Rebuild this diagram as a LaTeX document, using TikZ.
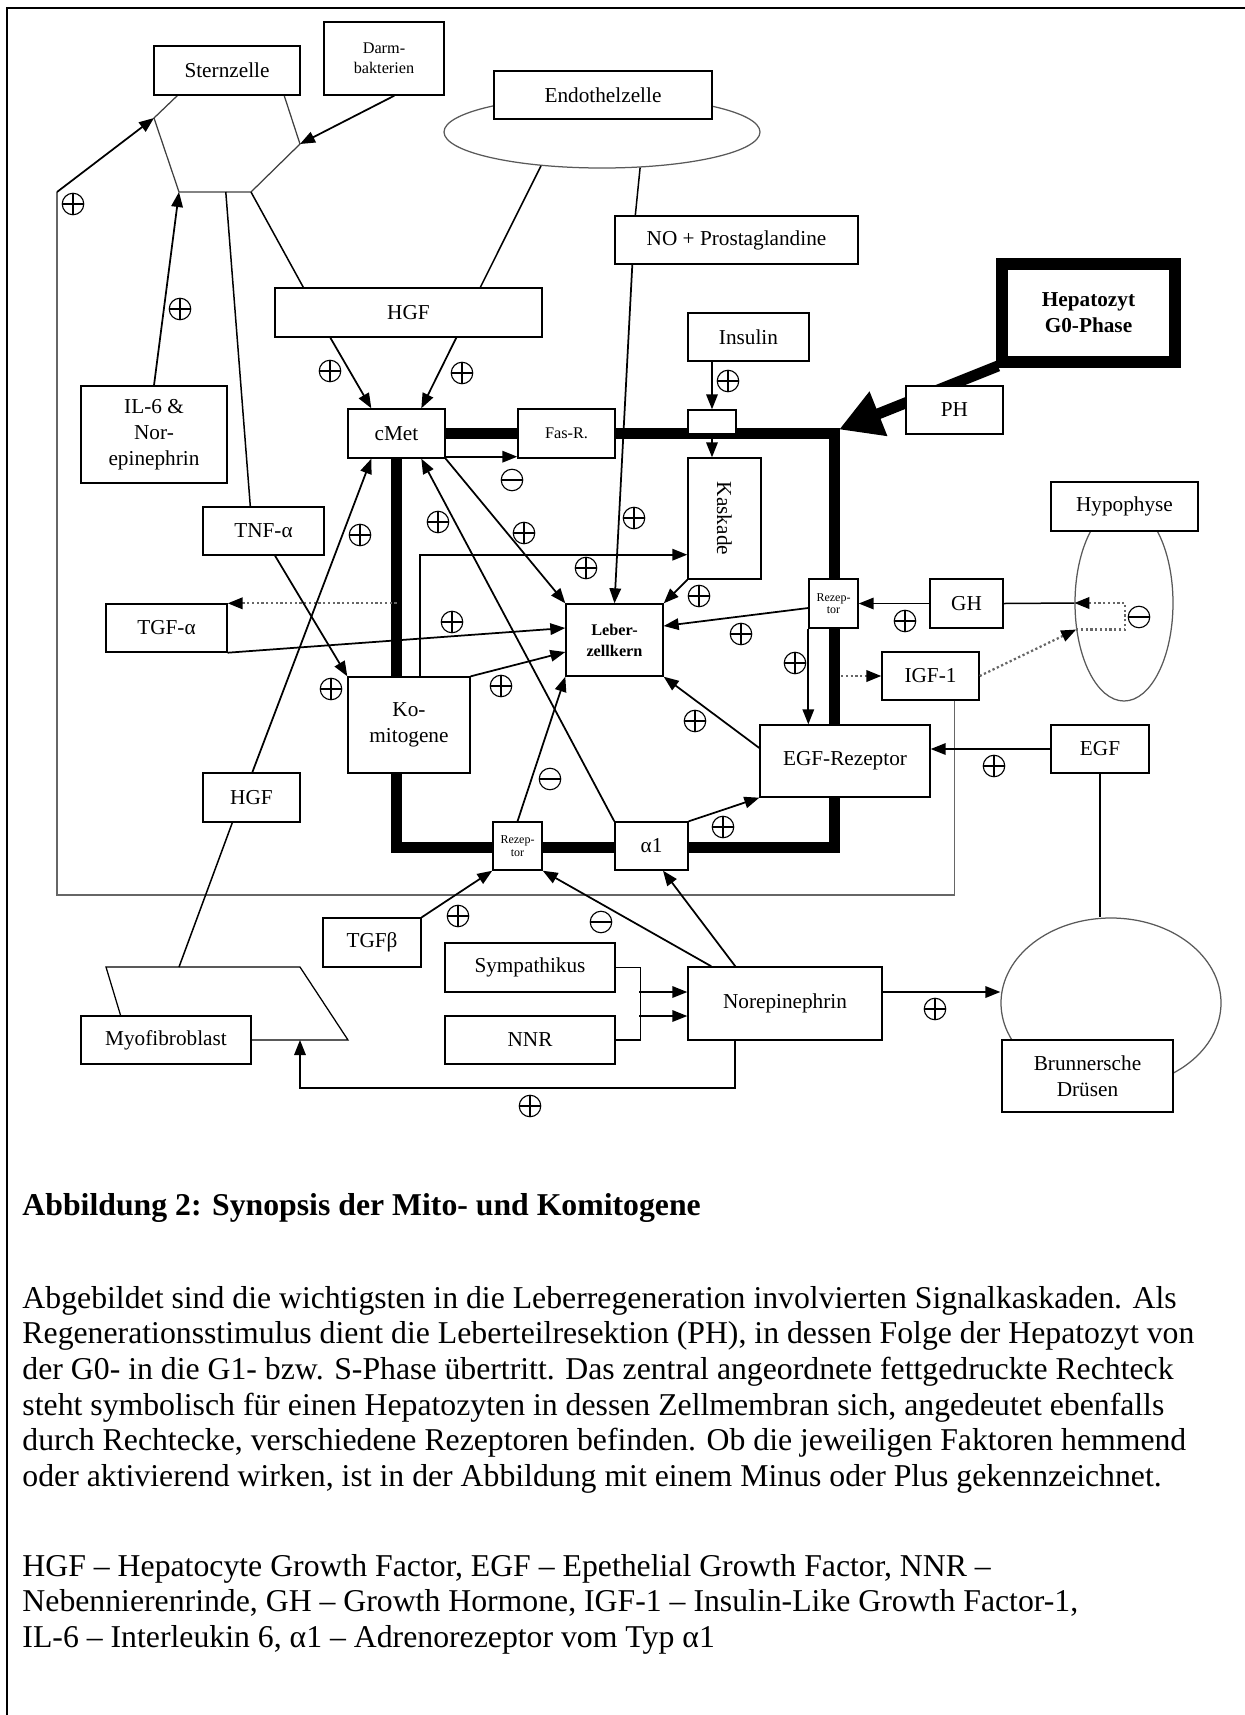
\documentclass[tikz,border=0pt]{standalone}
\usepackage{fontspec}
\setmainfont{Liberation Serif}
\usetikzlibrary{arrows.meta, shapes.geometric, calc}
\pgfdeclarelayer{bg}
\pgfsetlayers{bg,main}
\tikzset{
	box/.style 2 args={draw, fill=white, line width=0.55pt, minimum width=#1*0.4pt, minimum height=#2*0.4pt, inner sep=0pt, align=center, font=\fontsize{8.5}{10.4}\selectfont},
	arr/.style={-{Triangle[length=6pt,width=4.6pt]}, line width=0.7pt},
	ln/.style={line width=0.6pt},
	gln/.style={line width=0.6pt, draw=black!60},
	dotarr/.style={densely dotted, line width=0.9pt, draw=black!60, -{Triangle[length=6pt,width=4.6pt,color=black]}},
	pl/.style={circle, draw, line width=0.45pt, minimum size=8.6pt, inner sep=0pt, path picture={\draw[line width=0.45pt] (path picture bounding box.north) -- (path picture bounding box.south) (path picture bounding box.west) -- (path picture bounding box.east);}},
	mi/.style={circle, draw, line width=0.45pt, minimum size=8.6pt, inner sep=0pt, path picture={\draw[line width=0.45pt] (path picture bounding box.west) -- (path picture bounding box.east);}},
	txt/.style={anchor=base west, inner sep=0pt, font=\fontsize{12.7}{15}\selectfont}
}
\begin{document}
\begin{tikzpicture}[x=0.4pt, y=-0.4pt]
	\useasboundingbox (0,0) rectangle (1245,1715);
	%frame
	\draw[line width=0.8pt] (7,1715) -- (7,8) -- (1245,8);
	
	%cell shapes
	\coordinate (hx1) at (178,95);
	\coordinate (hx2) at (284,95);
	\coordinate (hx3) at (300,144);
	\coordinate (hx4) at (251,192);
	\coordinate (hx5) at (179,192);
	\coordinate (hx6) at (154,118);
	\draw[line width=0.5pt, black!75] (hx1) -- (hx2) -- (hx3) -- (hx4) -- (hx5) -- (hx6) -- cycle;
	%
	\coordinate (pgt) at (179,967);
	\coordinate (pgb) at (300,1040);
	\draw[line width=0.5pt] (106,967) -- (300,967) -- (348,1040) -- (128,1040) -- cycle;
	%
	\node[ellipse, draw=black!65, line width=0.5pt, minimum width=316*0.4pt, minimum height=72*0.4pt, inner sep=0pt] (endoell) at (602,132) {};
	\node[ellipse, draw=black!65, line width=0.5pt, minimum width=98*0.4pt, minimum height=196*0.4pt, inner sep=0pt] (hypoell) at (1124,603) {};
	\node[ellipse, draw=black!65, line width=0.5pt, minimum width=220*0.4pt, minimum height=170*0.4pt, inner sep=0pt] (brunell) at (1111,1003) {};
	
	%membrane corners
	\coordinate (mtr) at (834,433.5);
	\coordinate (mbr) at (834,847);
	\coordinate (mbl) at (396.5,847);
	
	%boxes
	\node[box={146}{49}] (stern) at (227,70.5) {Sternzelle};
	\node[box={120}{73}, font=\fontsize{6.5}{8}\selectfont] (darm) at (384,58.5) {Darm-\\bakterien};
	\node[box={218}{48}] (endo) at (603,95) {Endothelzelle};
	\node[box={267}{49}] (hgfa) at (408.5,312.5) {HGF};
	\node[box={243}{48}] (nopg) at (736.5,240) {NO + Prostaglandine};
	\node[box={97}{49}] (cmet) at (396.5,433.5) {cMet};
	\node[box={97}{49}, font=\fontsize{6.5}{8}\selectfont] (fasr) at (566.5,433.5) {Fas-R.};
	\node[box={121}{48}] (ins) at (748.5,337) {Insulin};
	\node[box={48}{24}] (insr) at (712,422) {};
	\node[box={73}{121}] (kask) at (724.5,518.5) {\rotatebox{-90}{Kaskade}};
	\node[box={173}{98}, line width=4.8pt, font=\fontsize{8.5}{10.4}\selectfont\bfseries] (hep) at (1088.5,313) {Hepatozyt\\G0-Phase};
	\node[box={97}{48}] (ph) at (954.5,410) {PH};
	\node[box={147}{49}] (hypo) at (1124.5,506.5) {Hypophyse};
	\node[box={73}{49}] (gh) at (966.5,603.5) {GH};
	\node[box={49}{49}, font=\fontsize{4.8}{5.1}\selectfont] (rezr) at (833.5,603.5) {Rezep-\\tor};
	\node[box={97}{48}] (igf) at (930.5,676) {IGF-1};
	\node[box={170}{72}] (egfr) at (845,761) {EGF-Rezeptor};
	\node[box={98}{48}] (egf) at (1100,749) {EGF};
	\node[box={97}{72}, font=\fontsize{6.5}{8.4}\selectfont\bfseries] (leber) at (614.5,640) {Leber-\\zellkern};
	\node[box={121}{48}] (tnf) at (263.5,531) {TNF-α};
	\node[box={121}{48}] (tgfa) at (166.5,628) {TGF-α};
	\node[box={146}{97}] (il6) at (154,434.5) {IL-6 \&\\Nor-\\epinephrin};
	\node[box={122}{96}] (komi) at (409,725) {Ko-\\mitogene};
	\node[box={97}{49}] (hgfb) at (251.5,797.5) {HGF};
	\node[box={49}{48}, font=\fontsize{4.8}{5.1}\selectfont] (rezl) at (517.5,846) {Rezep-\\tor};
	\node[box={73}{48}] (alpha) at (651.5,846) {α1};
	\node[box={98}{49}] (tgfb) at (372,942.5) {TGFβ};
	\node[box={170}{49}] (symp) at (530,967.5) {Sympathikus};
	\node[box={170}{48}] (nnr) at (530,1040) {NNR};
	\node[box={194}{73}] (norepi) at (785,1003.5) {Norepinephrin};
	\node[box={170}{48}] (myo) at (166,1040) {Myofibroblast};
	\node[box={171}{72}] (brun) at (1087.5,1076) {Brunnersche\\Drüsen};
	
	%membrane and PH arrow (behind the boxes)
	\begin{pgfonlayer}{bg}
		\draw[line width=4.4pt] (cmet.east) -- (mtr) -- (mbr) -- (mbl) -- (cmet.south);
		\draw[line width=4.4pt, -{Triangle[length=17pt,width=18pt]}] ($(hep.south west)+(2,-2)$) -- ($(mtr)+(5,-4)$);
	\end{pgfonlayer}
	
	%Sternzelle inputs
	\coordinate (lp) at (57,192);
	\draw[arr] ($(darm.south west)+(71,0)$) -- (hx3);
	\draw[arr] (il6.north) -- (hx5);
	\draw[gln] ($(igf.south west)+(73,0)$) |- (57,895) -- (lp);
	\draw[arr] (lp) -- (hx6);
	
	%lines out of the cells
	\draw[ln] ($(hx5)!0.65!(hx4)$) -- ($(tnf.north west)+(48,0)$);
	\draw[ln] (hx4) -- ($(hgfa.north west)+(29,0)$);
	\draw[ln] (endoell.209) -- ($(hgfa.north west)+(206,0)$);
	\draw[ln] (endoell.317) -- ($(nopg.north west)+(21,0)$);
	
	%HGF -> cMet
	\draw[arr] ($(hgfa.south west)+(56,0)$) -- ($(cmet.north west)+(24,0)$);
	\draw[arr] ($(hgfa.south west)+(182,0)$) -- ($(cmet.north west)+(74,0)$);
	
	%cMet outputs
	\draw[arr] ($(cmet.south east)+(0,-2)$) -- ($(fasr.south west)+(0,-2)$);
	\draw[arr] (cmet.south east) -- (leber.north west);
	
	%Insulin, Kaskade
	\draw[arr] (insr.north |- ins.south) -- (insr.north);
	\draw[arr] (insr.south) -- (insr.south |- kask.north);
	\draw[arr] ($(nopg.south west)+(18,0)$) -- (leber.north);
	\draw[arr] (kask.south west) -- (leber.north east);
	\draw[arr] ($(komi.north west)+(73,0)$) |- ($(kask.south west)+(0,-25)$);
	
	%TGF-alpha, TNF-alpha
	\draw[dotarr] (tgfa.north east -| cmet.south) -- (tgfa.north east);
	\draw[arr] (tgfa.south east) -- ($(leber.west)+(0,-12)$);
	\draw[arr] ($(tnf.south)+(11.5,0)$) -- (komi.north west);
	\draw[arr] (komi.north east) -- ($(leber.west)+(0,12)$);
	
	%HGF from the Myofibroblast
	\draw[ln] (pgt) -- ($(hgfb.south west)+(30,0)$);
	\draw[arr] ($(hgfb.north west)+(50,0)$) -- ($(cmet.south west)+(24,0)$);
	
	%receptors at the bottom
	\draw[arr] (alpha.north west) -- ($(cmet.south west)+(74,0)$);
	\draw[arr] (rezl.north) -- (leber.south west);
	\draw[arr] (alpha.north east) -- (egfr.south west);
	\draw[arr] ($(egfr.west)+(0,-13)$) -- (leber.south east);
	
	%GH, IGF-1
	\draw[arr] ($(rezr.west)+(0,4.5)$) -- ($(leber.east)+(0,-14)$);
	\draw[arr] (gh.west) -- (rezr.east);
	\draw[arr] (rezr.south west) -- (rezr.south west |- egfr.north);
	\draw[ln] (gh.east) -- (hypoell.west);
	\draw[dotarr] (hypoell.209) -| ($(hypoell.center)+(1,0)$) -- (hypoell.west);
	\draw[dotarr] (igf.east) -- (hypoell.209);
	\draw[dotarr] ($(igf.west -| mtr)+(7,0)$) -- (igf.west);
	
	%EGF
	\draw[arr] (egf.west) -- (egf.west -| egfr.east);
	\draw[ln] (egf.south) -- (egf.south |- brunell.north);
	
	%Norepinephrin
	\coordinate (ne) at ($(norepi.east)+(0,-11.5)$);
	\draw[arr] (ne) -- (ne -| brunell.west);
	\draw[arr] ($(norepi.north west)+(24,0)$) -- (rezl.south east);
	\draw[arr] ($(norepi.north west)+(48,0)$) -- ($(alpha.south)+(11.5,0)$);
	\draw[ln] (symp.east) -| ($(nnr.east)+(25,0)$) -- (nnr.east);
	\draw[arr] ($(norepi.west)+(-48,-11.5)$) -- ($(norepi.west)+(0,-11.5)$);
	\draw[arr] ($(norepi.west)+(-48,12.5)$) -- ($(norepi.west)+(0,12.5)$);
	\draw[arr] ($(norepi.south west)+(48,0)$) |- ($(pgb)+(0,48)$) -- (pgb);
	\draw[arr] (tgfb.north east) -- (rezl.south west);
	
	%plus and minus signs
	\node[pl] (p1) at (73,204) {};
	\node[pl] (p2) at (180,309) {};
	\node[pl] (p3) at (330,371) {};
	\node[pl] (p4) at (462,373) {};
	\node[pl] (p5) at (728,381) {};
	\node[pl] (p6) at (524,533) {};
	\node[pl] (p7) at (634,518) {};
	\node[pl] (p8) at (699,596) {};
	\node[pl] (p9) at (586,568) {};
	\node[pl] (p10) at (452,622) {};
	\node[pl] (p11) at (331,689) {};
	\node[pl] (p12) at (501,686) {};
	\node[pl] (p13) at (360,535) {};
	\node[pl] (p14) at (438,522) {};
	\node[pl] (p15) at (723,827) {};
	\node[pl] (p16) at (695,721) {};
	\node[pl] (p17) at (741,634) {};
	\node[pl] (p18) at (905,621) {};
	\node[pl] (p19) at (795,663) {};
	\node[pl] (p20) at (994,766) {};
	\node[pl] (p21) at (935,1009) {};
	\node[pl] (p22) at (458,916) {};
	\node[pl] (p23) at (530,1106) {};
	%
	\node[mi] (m1) at (512,480) {};
	\node[mi] (m2) at (550,779) {};
	\node[mi] (m3) at (1139,617) {};
	\node[mi] (m4) at (601,922) {};
	
	%caption
	\node[txt, font=\fontsize{12.7}{15}\selectfont\bfseries] (capt) at (22,1215) {Abbildung 2: Synopsis der Mito- und Komitogene};
	\node[txt] (t1) at (22,1308) {Abgebildet sind die wichtigsten in die Leberregeneration involvierten Signalkaskaden. Als};
	\node[txt] (t2) at (22,1343) {Regenerationsstimulus dient die Leberteilresektion (PH), in dessen Folge der Hepatozyt von};
	\node[txt] (t3) at (22,1379) {der G0- in die G1- bzw. S-Phase übertritt. Das zentral angeordnete fettgedruckte Rechteck};
	\node[txt] (t4) at (22,1415) {steht symbolisch für einen Hepatozyten in dessen Zellmembran sich, angedeutet ebenfalls};
	\node[txt] (t5) at (22,1450) {durch Rechtecke, verschiedene Rezeptoren befinden. Ob die jeweiligen Faktoren hemmend};
	\node[txt] (t6) at (22,1486) {oder aktivierend wirken, ist in der Abbildung mit einem Minus oder Plus gekennzeichnet.};
	%
	\node[txt] (t7) at (22,1576) {HGF – Hepatocyte Growth Factor, EGF – Epethelial Growth Factor, NNR –};
	\node[txt] (t8) at (22,1611) {Nebennierenrinde, GH – Growth Hormone, IGF-1 – Insulin-Like Growth Factor-1,};
	\node[txt] (t9) at (22,1647) {IL-6 – Interleukin 6, α1 – Adrenorezeptor vom Typ α1};
\end{tikzpicture}
\end{document}
